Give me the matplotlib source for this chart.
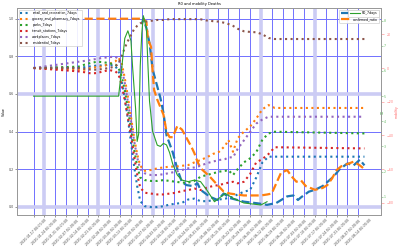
import matplotlib
matplotlib.use("Agg")
import matplotlib.pyplot as plt
import pandas as pd
import numpy as np

BASE = pd.Timestamp("2020-01-17")

# ---- mobility (percent change from baseline), 7-day averages ----
mob_days = [0, 29, 33, 37, 41, 45, 49, 53, 55, 57, 59, 61, 63, 65, 67, 69, 72, 76, 80, 84,
            88, 92, 96, 100, 104, 108, 112, 116, 120, 124, 126, 129, 132, 136, 140, 144,
            148, 152, 156, 214]
retail = [0, 0, 0.5, 1, 1.5, 1.5, 2, 1, -2, -8, -18, -30, -44, -58, -70, -79, -82, -82.5,
          -82.5, -82, -81, -80.5, -80, -78, -77.5, -79, -79, -78.5, -78, -77.5, -77, -76.4,
          -75, -73.4, -72.4, -65, -56, -52.6, -52.6, -52.6]
grocery = [0, -1, -1, 0, 0.5, 1, 2.5, 4, 6, 3, -6, -17, -29, -41, -51, -58, -61, -60.5,
           -59.5, -59, -58.5, -58.5, -58, -57.6, -56, -54.6, -53, -51, -49.7, -46, -42.7,
           -49.7, -41.7, -37.8, -34.8, -30, -24.5, -22, -23.7, -23.7]
parks = [0, 0.8, 2, 3, 3.7, 3.5, 2.8, 2, 0, -5, -13, -24, -36, -48, -58, -65, -66.5, -67,
         -67, -66.5, -67, -67.5, -68, -68, -67, -64.5, -63.5, -62.5, -61.5, -61, -60.5,
         -63.5, -60, -56, -53.6, -50, -42.5, -38.8, -37.8, -38.8]
transit = [0, -2, -2.5, -3.2, -3, -2, -1.2, -2, -4, -10, -19, -29, -40, -52, -63, -71, -74,
           -74.5, -75, -75, -74.5, -74, -73, -72.4, -71.5, -72.4, -71, -70, -69.4, -68.5,
           -68, -67.5, -68.4, -67.5, -63, -56, -54, -51, -47, -47.7]
workplaces = [0, 3.7, 4.2, 4.7, 5.5, 6, 6.5, 6.7, 5, 0, -9, -20, -31, -43, -53, -60, -62.5,
              -63.5, -63.5, -63, -62.3, -61.5, -60.5, -59.5, -59, -58, -56.5, -55.5, -54.6,
              -54, -53, -53, -48, -43, -38, -33, -30.5, -28.9, -28.9, -28.9]
residential = [0, 0, -0.5, -1, -1, -0.5, 0, 1, 3, 7, 12, 16, 19.5, 23, 25, 26.5, 27.5, 28,
               28.5, 28.5, 29, 29, 29, 29, 29, 28.9, 28.2, 27.8, 27.5, 26.7, 26.1, 25, 23.3,
               21.8, 21.4, 21.2, 20, 17.8, 17.2, 17.2]
mob_labels = ["retail_and_recreation_7days", "grocery_and_pharmacy_7days", "parks_7days",
              "transit_stations_7days", "workplaces_7days", "residential_7days"]

# ---- normalised deaths / confirmed ratios ----
deaths_days = [70, 71, 73, 75, 77, 80, 82, 84, 86, 90, 93, 96, 99, 103, 106, 108, 114, 119,
               123, 127, 136, 145, 151, 157, 164, 168, 171, 173, 178, 182, 187, 194, 198,
               203, 207, 211, 214]
deaths_ratio = [0.97, 1.0, 0.95, 0.87, 0.73, 0.64, 0.58, 0.5, 0.38, 0.29, 0.2, 0.13, 0.115,
                0.11, 0.125, 0.09, 0.053, 0.036, 0.07, 0.046, 0.027, 0.018, 0.01, 0.02,
                0.055, 0.06, 0.036, 0.05, 0.08, 0.09, 0.11, 0.16, 0.2, 0.23, 0.22, 0.25, 0.22]
conf_days = [33, 71, 73, 74, 76, 77, 78, 80, 82, 84, 86, 88, 90, 93, 96, 99, 102, 104, 106,
             108, 114, 119, 123, 127, 136, 147, 151, 154, 157, 160, 164, 167, 170, 173, 176,
             179, 182, 187, 190, 193, 196, 199, 204, 207, 211, 214]
confirmed_ratio = [1.0, 1.0, 0.98, 0.89, 0.85, 0.72, 0.62, 0.57, 0.53, 0.49, 0.40, 0.37,
                   0.37, 0.43, 0.41, 0.365, 0.32, 0.285, 0.24, 0.205, 0.16, 0.115, 0.08,
                   0.07, 0.06, 0.06, 0.065, 0.07, 0.125, 0.18, 0.195, 0.16, 0.133, 0.14,
                   0.11, 0.1, 0.09, 0.1, 0.115, 0.15, 0.195, 0.215, 0.23, 0.24, 0.22, 0.2]

# ---- R0 ----
r0_days = [0, 55, 57, 59, 61, 63, 64, 66, 67, 68, 69, 70, 71, 73, 74, 75, 77, 80, 82, 84,
           86, 88, 90, 93, 96, 100, 104, 108, 112, 117, 124, 129, 136, 147, 151]
r0_7days = [5.0, 5.0, 6.1, 7.3, 7.6, 7.2, 6.2, 4.5, 3.2, 3.5, 6.2, 7.5, 8.2, 7.7, 6.2, 4.8,
            3.6, 3.05, 3.0, 3.12, 3.06, 2.75, 2.3, 1.86, 1.66, 1.6, 1.66, 1.6, 1.27, 0.8,
            1.13, 0.94, 0.75, 0.67, 0.8]

tick_dates = pd.date_range("2020-01-17", "2020-08-14", freq="7D")
tick_labels = [str(t) for t in tick_dates]
value_ticks = [0.0, 0.2, 0.4, 0.6, 0.8, 1.0]
r0_ticks = [1, 2, 3, 4, 5, 6, 7, 8]
mob_ticks = [-80, -60, -40, -20, 0, 20]


def to_dates(days):
    return BASE + pd.to_timedelta(days, unit="D")


FS = 2.3
fig = plt.figure(figsize=(4, 2.5), dpi=100)
ax = fig.add_axes([0.0425, 0.14, 0.91, 0.828])
ax_mob = ax.twinx()
ax_r0 = ax.twinx()

# main axis
ax.plot(to_dates(deaths_days), deaths_ratio, "--", color="#1f77b4", lw=1.6, label="deaths_ratio")
ax.plot(to_dates(conf_days), confirmed_ratio, "--", color="#ff7f0e", lw=1.6, label="confirmed_ratio")

# mobility axis
mob_dates = to_dates(mob_days)
cols = ["#1f77b4", "#ff7f0e", "#2ca02c", "#d62728", "#9467bd", "#8c564b"]
for series, lab, c in zip([retail, grocery, parks, transit, workplaces, residential], mob_labels, cols):
    ax_mob.plot(mob_dates, series, ":", color=c, lw=1.5, label=lab)

# R0 axis
ax_r0.plot(to_dates(r0_days), r0_7days, "-", color="#2ca02c", lw=0.8, label="R0_7days")

# ---- axes setup ----
ax.set_ylim(-0.044, 1.057)
ax.set_yticks(value_ticks)
ax.set_yticklabels([f"{v:.1f}" for v in value_ticks])
ax.set_xticks(tick_dates)
ax.set_xticklabels(tick_labels, rotation=45)
ax.minorticks_off()
ax.set_axisbelow(True)
ax.grid(which="major", color="#7070ff", lw=0.7)
# wide pale reference lines (over the thin grid, under the data)
for t in tick_dates[1::5]:
    ax.axvline(t, color="#ccccf4", lw=2.6, zorder=0.7)
for v in (value_ticks[0], value_ticks[3]):
    ax.axhline(v, color="#ccccf4", lw=2.6, zorder=0.7)
ax.tick_params(which="major", labelsize=FS, length=1.5, width=0.4, pad=1, colors="#444444")
ax.set_ylabel("Value", fontsize=FS, labelpad=2)
ax.set_title("R0 and mobility Deaths", fontsize=2.6, pad=2)
leg1 = ax.legend(handles=ax.get_lines()[:2], loc="upper right", fontsize=FS, handlelength=3,
                 borderpad=0.5, labelspacing=0.6, framealpha=0.9, edgecolor="#cccccc")
leg1.get_frame().set_linewidth(0.5)

ax_mob.set_ylim(-87.2, 35.6)
ax_mob.set_yticks(mob_ticks)
ax_mob.tick_params(axis="y", labelsize=FS, length=2.5, width=0.4, pad=1.5, colors="#ff8080")
ax_mob.set_ylabel("mobility", fontsize=FS, color="#ff6060", labelpad=1)
leg2 = ax_mob.legend(loc="upper left", fontsize=FS, handlelength=3, borderpad=0.5,
                     labelspacing=0.6, framealpha=0.9, edgecolor="#cccccc")
leg2.get_frame().set_linewidth(0.5)

ax_r0.set_ylim(0.272, 8.506)
ax_r0.set_yticks(r0_ticks)
ax_r0.tick_params(axis="y", labelsize=FS, length=1.2, width=0.4, pad=1, colors="#66bb66")
ax_r0.set_ylabel("R0", fontsize=FS, color="#44aa44", labelpad=-4)
leg3 = ax_r0.legend(loc="upper right", fontsize=FS, handlelength=3, borderpad=0.5,
                    framealpha=1.0, edgecolor="#cccccc")
leg3.get_frame().set_linewidth(0.5)

for a in (ax, ax_mob, ax_r0):
    for s in a.spines.values():
        s.set_color("#999999")
        s.set_linewidth(0.7)

fig.savefig("out.png", dpi=100)
